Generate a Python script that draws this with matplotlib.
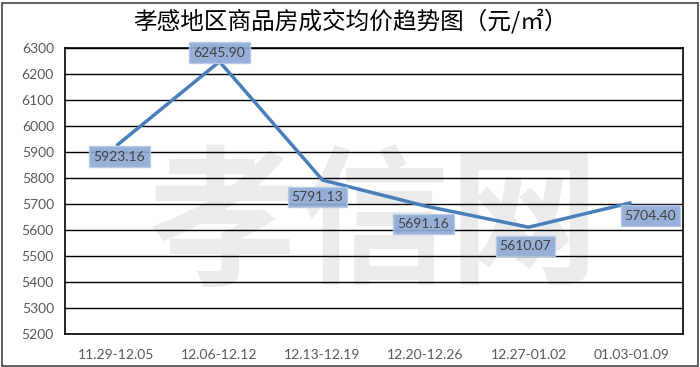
import numpy as np
import matplotlib.pyplot as plt
from matplotlib.patches import Rectangle

plt.rcParams['font.family'] = ['Noto Sans CJK SC', 'DejaVu Sans']

weeks = ['11.29-12.05', '12.06-12.12', '12.13-12.19',
         '12.20-12.26', '12.27-01.02', '01.03-01.09']
prices = [5923.16, 6245.90, 5791.13, 5691.16, 5610.07, 5704.40]
label_offsets = [(3, -11), (0, 9), (-5, -17), (-2, -18), (-3, -19), (19, -13)]
yticks = np.arange(5200, 6301, 100)

fig = plt.figure(figsize=(7, 3.67), dpi=100)
ax = fig.add_axes([65 / 700, 33 / 367, 618 / 700, 286.5 / 367])

# watermark
ax.text(0.5, 0.37, '孝信网', transform=ax.transAxes, ha='center', va='center',
        fontsize=108, color='#ebebeb', fontweight='bold', zorder=0)

x = np.arange(len(weeks))
ax.plot(x, prices, color='#4a7ebb', lw=2.5, zorder=3, solid_capstyle='butt')

for xi, v, off in zip(x, prices, label_offsets):
    ax.annotate(f'{v:.2f}', (xi, v), xytext=off, textcoords='offset pixels',
                ha='center', va='center', fontsize=10, color='#404040',
                family=['Lato'], zorder=4,
                bbox=dict(boxstyle='square,pad=0.3', fc='#8eaad6', ec='#b8cbe4',
                          lw=1, alpha=0.92))

ax.set_xlim(-0.5, len(weeks) - 0.5)
ax.set_ylim(5200, 6300)
ax.set_yticks(yticks)
ax.yaxis.grid(True, color='black', lw=1)
ax.set_axisbelow(True)
ax.set_xticks(x)
ax.set_xticklabels(weeks, family=['Lato'])
ax.set_yticklabels([str(t) for t in yticks], family=['Lato'])
ax.tick_params(length=0, labelsize=10, labelcolor='#595959', pad=8)
ax.tick_params(axis='x', pad=11)
for s in ax.spines.values():
    s.set_color('black')
    s.set_linewidth(1.2)

fig.text(0.5, 1 - 21 / 367, '孝感地区商品房成交均价趋势图（元/㎡）', ha='center', va='center',
         fontsize=17, color='black')

fig.patches.append(Rectangle((1.5 / 700, 1.5 / 367), 696 / 700, 363 / 367,
                             transform=fig.transFigure, fill=False,
                             ec='#444444', lw=1.2))

fig.savefig('out.png', dpi=100)
